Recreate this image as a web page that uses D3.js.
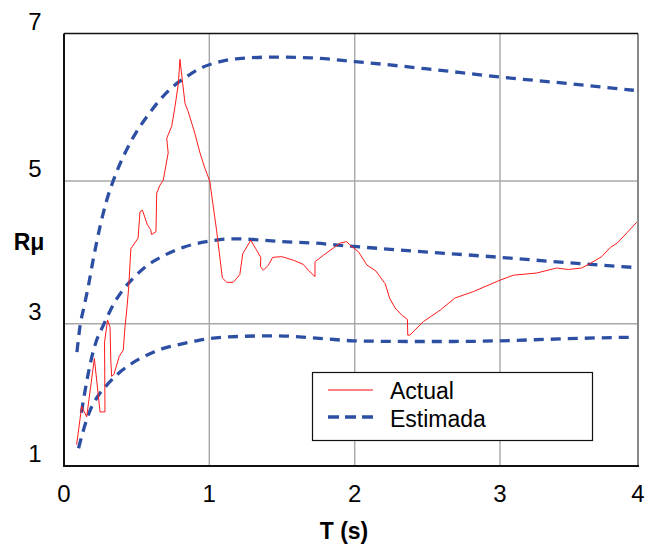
<!DOCTYPE html>
<html>
<head>
<meta charset="utf-8">
<script src="https://cdn.jsdelivr.net/npm/d3@7"></script>
<style>
  body { margin: 0; background: #fff; }
  svg { display: block; font-family: "Liberation Sans", Arial, sans-serif; }
</style>
</head>
<body>
<svg id="chart" width="647" height="544"></svg>
<script>
// tick values
var xTicks = [0, 1, 2, 3, 4];
var yTicks = [1, 3, 5, 7];

// measured curve: [T, R]
var actual = [
  [0.087,1.30],[0.122,1.84],[0.156,1.69],[0.209,2.51],[0.248,1.76],[0.282,1.76],
  [0.279,2.74],[0.30,3.05],[0.317,2.95],[0.322,2.49],[0.328,2.26],[0.344,2.29],
  [0.38,2.54],[0.408,2.63],[0.42,2.96],[0.43,3.15],[0.445,3.5],[0.46,4.05],
  [0.51,4.20],[0.523,4.57],[0.54,4.59],[0.573,4.39],[0.596,4.32],[0.603,4.25],
  [0.633,4.29],[0.638,4.83],[0.66,4.94],[0.683,5.01],[0.717,5.38],[0.707,5.58],
  [0.741,5.74],[0.764,6.01],[0.787,6.32],[0.798,6.65],[0.817,6.32],[0.833,6.05],
  [0.855,5.94],[0.90,5.65],[0.936,5.38],[0.97,5.17],[1.003,5.0],[1.05,4.31],
  [1.09,3.64],[1.12,3.58],[1.165,3.58],[1.21,3.69],[1.23,3.98],[1.285,4.17],
  [1.32,4.05],[1.354,3.93],[1.352,3.80],[1.372,3.75],[1.406,3.82],[1.436,3.93],
  [1.498,3.94],[1.578,3.89],[1.647,3.83],[1.681,3.75],[1.727,3.66],[1.727,3.87],
  [1.785,3.96],[1.853,4.06],[1.90,4.13],[1.946,4.15],[1.968,4.10],[2.025,4.01],
  [2.085,3.82],[2.145,3.74],[2.21,3.56],[2.24,3.36],[2.278,3.22],[2.324,3.12],
  [2.363,3.06],[2.365,2.84],[2.38,2.84],[2.473,3.03],[2.588,3.19],[2.69,3.36],
  [2.817,3.45],[3.0,3.61],[3.097,3.68],[3.265,3.71],[3.41,3.78],[3.495,3.76],
  [3.59,3.78],[3.65,3.84],[3.737,3.94],[3.80,4.07],[3.85,4.13],[3.99,4.42]
];

// estimated curves: [T, R]
var estUpper = [
  [0.089,2.60],[0.11,2.96],[0.138,3.24],[0.167,3.52],[0.20,3.89],[0.248,4.36],
  [0.294,4.73],[0.34,5.01],[0.42,5.38],[0.5,5.67],[0.57,5.87],[0.66,6.1],
  [0.75,6.28],[0.84,6.41],[0.94,6.53],[1.06,6.61],[1.2,6.66],[1.44,6.68],
  [1.7,6.67],[2.0,6.62],[2.5,6.52],[3.0,6.41],[3.5,6.32],[3.97,6.23]
];
var estMiddle = [
  [0.12,1.75],[0.14,2.0],[0.165,2.28],[0.19,2.52],[0.225,2.77],[0.26,2.93],
  [0.294,3.08],[0.34,3.27],[0.397,3.45],[0.477,3.64],[0.569,3.81],[0.683,3.95],
  [0.82,4.07],[0.98,4.15],[1.17,4.19],[1.3,4.18],[1.5,4.15],[1.72,4.13],
  [1.95,4.09],[2.4,4.02],[3.0,3.93],[3.46,3.86],[3.96,3.79]
];
var estLower = [
  [0.10,1.25],[0.156,1.65],[0.19,1.83],[0.236,1.99],[0.305,2.16],[0.374,2.30],
  [0.443,2.41],[0.523,2.51],[0.615,2.60],[0.695,2.66],[0.776,2.70],[0.913,2.76],
  [1.0,2.79],[1.2,2.82],[1.45,2.83],[1.785,2.79],[1.99,2.76],[2.36,2.75],
  [2.68,2.75],[3.0,2.76],[3.34,2.78],[3.7,2.80],[3.96,2.81]
];

var legendItems = ["Actual", "Estimada"];

var red = "#ff1a1a", blue = "#2d4fa3", grid = "#a8a8a8";

var svg = d3.select("#chart");

var x = d3.scaleLinear().domain(xTicks).range([64, 209.3, 354.7, 500, 638]);
var y = d3.scaleLinear().domain(yTicks).range([466, 323.7, 181, 33.5]);

// grid
svg.append("g")
    .selectAll("line")
    .data([1, 2, 3])
    .join("line")
    .attr("x1", d => x(d)).attr("x2", d => x(d))
    .attr("y1", y(7)).attr("y2", y(1))
    .attr("stroke", grid).attr("stroke-width", 1.4);

svg.append("g")
    .selectAll("line")
    .data([3, 5])
    .join("line")
    .attr("x1", x(0)).attr("x2", x(4))
    .attr("y1", d => y(d)).attr("y2", d => y(d))
    .attr("stroke", grid).attr("stroke-width", 1.4);

// frame
svg.append("line").attr("x1", x(4)).attr("x2", x(4)).attr("y1", y(7)).attr("y2", y(1))
    .attr("stroke", "#888").attr("stroke-width", 2);
svg.append("line").attr("x1", x(0)).attr("x2", x(4)).attr("y1", y(7)).attr("y2", y(7))
    .attr("stroke", "#111").attr("stroke-width", 1.5);
svg.append("line").attr("x1", x(0)).attr("x2", x(0)).attr("y1", y(7)).attr("y2", y(1))
    .attr("stroke", "#111").attr("stroke-width", 2);
svg.append("line").attr("x1", x(0) - 1).attr("x2", x(4) + 1).attr("y1", y(1)).attr("y2", y(1))
    .attr("stroke", "#111").attr("stroke-width", 2);

// tick labels
svg.append("g")
    .selectAll("text")
    .data(yTicks)
    .join("text")
    .attr("x", 35)
    .attr("y", d => y(d) - 4)
    .attr("text-anchor", "middle")
    .attr("font-size", 24)
    .text(d => d);

svg.append("g")
    .selectAll("text")
    .data(xTicks)
    .join("text")
    .attr("x", d => x(d))
    .attr("y", 502)
    .attr("text-anchor", "middle")
    .attr("font-size", 24)
    .text(d => d);

// axis titles
svg.append("text")
    .attr("x", 29).attr("y", 250)
    .attr("text-anchor", "middle")
    .attr("font-size", 23).attr("font-weight", "bold")
    .text("Rμ");

svg.append("text")
    .attr("x", 344).attr("y", 539)
    .attr("text-anchor", "middle")
    .attr("font-size", 23).attr("font-weight", "bold")
    .text("T (s)");

// lines
var line = d3.line().x(d => x(d[0])).y(d => y(d[1]));
var smooth = d3.line().x(d => x(d[0])).y(d => y(d[1])).curve(d3.curveMonotoneX);

[estUpper, estMiddle, estLower].forEach(function(s) {
    svg.append("path")
        .datum(s)
        .attr("d", smooth)
        .attr("fill", "none")
        .attr("stroke", blue)
        .attr("stroke-width", 3.3)
        .attr("stroke-dasharray", "10,7");
});

svg.append("path")
    .datum(actual)
    .attr("d", line)
    .attr("fill", "none")
    .attr("stroke", red)
    .attr("stroke-width", 1)
    .attr("stroke-linejoin", "round");

// legend
var lg = svg.append("g");
lg.append("rect")
    .attr("x", 312.5).attr("y", 372.5).attr("width", 280).attr("height", 68)
    .attr("fill", "#fff").attr("stroke", "#111").attr("stroke-width", 1.2);

lg.selectAll("line")
    .data(legendItems)
    .join("line")
    .attr("x1", 328).attr("x2", 373)
    .attr("y1", (d, i) => 390 + i * 27).attr("y2", (d, i) => 390 + i * 27)
    .attr("stroke", (d, i) => i === 0 ? red : blue)
    .attr("stroke-opacity", (d, i) => i === 0 ? 0.55 : 1)
    .attr("stroke-width", (d, i) => i === 0 ? 2 : 3.3)
    .attr("stroke-dasharray", (d, i) => i === 0 ? null : "11,6");

lg.selectAll("text")
    .data(legendItems)
    .join("text")
    .attr("x", 390)
    .attr("y", (d, i) => 399 + i * 27.5)
    .attr("font-size", 23)
    .text(d => d);
</script>
</body>
</html>
